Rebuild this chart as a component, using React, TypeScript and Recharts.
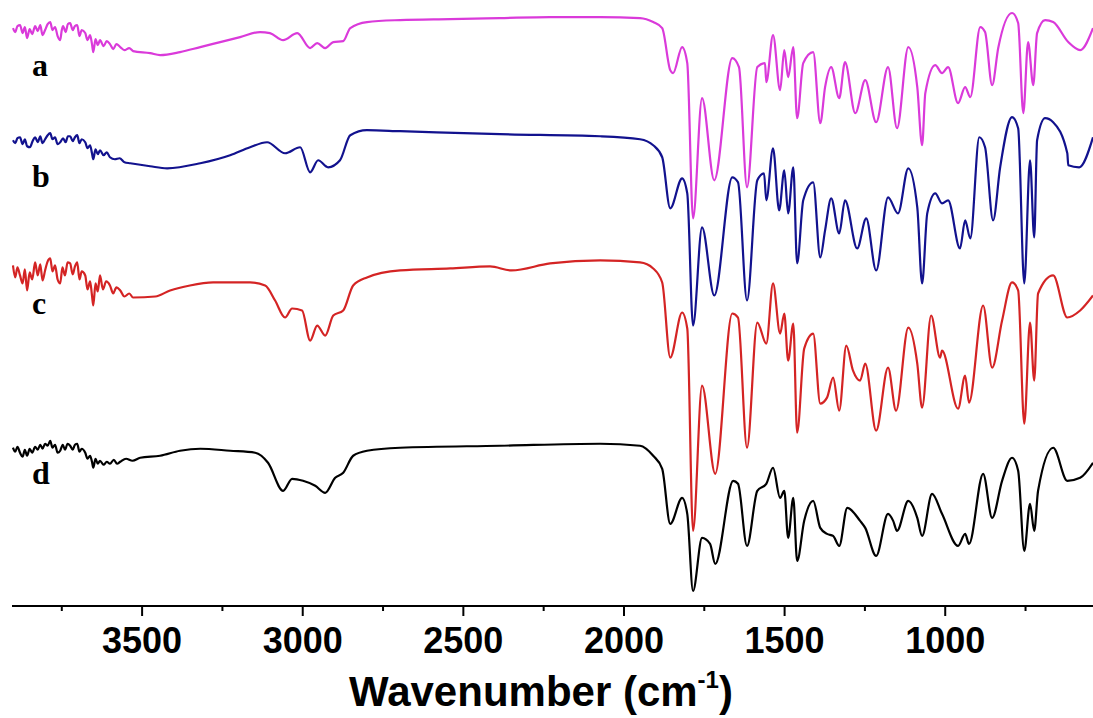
import React from 'react';
import { LineChart, Line, XAxis, YAxis } from 'recharts';

// FTIR spectra a-d, offset vertically. [wavenumber, transmittance (a.u., offset)]
const traceA: [number, number][] = [
  [3902, 577], [3895, 573], [3888, 579], [3880, 580], [3872, 572], [3865, 578], [3858, 567],
  [3850, 576], [3842, 571], [3833, 579], [3825, 574], [3817, 580], [3810, 570], [3802, 575],
  [3794, 581], [3786, 583], [3779, 575], [3771, 578], [3763, 569], [3755, 565], [3750, 575],
  [3746, 579], [3738, 573], [3731, 581], [3724, 582], [3716, 575], [3709, 579], [3702, 580],
  [3695, 569], [3688, 575], [3677, 572], [3670, 565], [3662, 570], [3656, 561], [3652, 553],
  [3645, 566], [3638, 560], [3631, 565], [3620, 559], [3610, 564], [3600, 561], [3590, 556],
  [3580, 561], [3568, 558], [3555, 555], [3540, 557], [3528, 554], [3475, 552], [3444, 550],
  [3382, 553], [3319, 558], [3257, 563], [3195, 568], [3133, 573], [3102, 572], [3061, 565],
  [3017, 572], [2977, 557], [2955, 562], [2930, 557], [2905, 563], [2874, 564], [2852, 577],
  [2800, 583], [2697, 585], [2541, 586], [2386, 587], [2230, 588], [2074, 588], [1950, 587],
  [1909, 583], [1881, 577], [1856, 535], [1847, 532], [1819, 558], [1803, 542], [1785, 387],
  [1757, 507], [1719, 425], [1663, 547], [1642, 538], [1617, 418], [1585, 538], [1561, 542],
  [1557, 523], [1536, 570], [1514, 515], [1501, 555], [1489, 528], [1473, 558], [1461, 487],
  [1442, 542], [1411, 553], [1389, 482], [1374, 518], [1355, 538], [1330, 507], [1312, 543],
  [1280, 492], [1249, 525], [1215, 483], [1178, 538], [1150, 477], [1115, 558], [1087, 518],
  [1072, 460], [1062, 512], [1031, 540], [1010, 532], [991, 538], [960, 502], [938, 518],
  [922, 508], [891, 578], [876, 573], [854, 520], [835, 557], [792, 592], [773, 582],
  [757, 492], [742, 563], [726, 520], [714, 572], [689, 585], [664, 583], [617, 563],
  [580, 555], [540, 577],
];

const traceB: [number, number][] = [
  [3902, 465], [3895, 462], [3888, 467], [3880, 468], [3872, 461], [3865, 466], [3858, 459],
  [3849, 458], [3841, 464], [3833, 468], [3825, 463], [3817, 469], [3810, 462], [3802, 466],
  [3794, 470], [3786, 472], [3779, 466], [3771, 468], [3763, 461], [3755, 463], [3746, 467],
  [3738, 463], [3731, 469], [3724, 469], [3716, 464], [3709, 468], [3702, 470], [3695, 462],
  [3688, 466], [3677, 463], [3670, 457], [3662, 460], [3656, 452], [3652, 446], [3645, 456],
  [3638, 451], [3631, 455], [3620, 450], [3610, 453], [3600, 448], [3585, 446], [3570, 447],
  [3555, 443], [3537, 442], [3475, 439], [3422, 437], [3319, 442], [3226, 450], [3164, 458],
  [3111, 463], [3055, 452], [3008, 458], [2977, 433], [2952, 445], [2921, 438], [2884, 445],
  [2852, 470], [2800, 475], [2697, 474], [2386, 471], [2074, 469], [1950, 466], [1909, 460],
  [1881, 448], [1856, 397], [1819, 427], [1803, 412], [1785, 280], [1757, 378], [1719, 310],
  [1663, 428], [1645, 423], [1617, 305], [1585, 425], [1564, 432], [1557, 405], [1536, 457],
  [1517, 395], [1501, 435], [1489, 392], [1473, 438], [1461, 342], [1442, 405], [1411, 423],
  [1389, 348], [1374, 375], [1355, 407], [1330, 372], [1312, 405], [1274, 357], [1246, 387],
  [1215, 335], [1178, 408], [1147, 392], [1115, 437], [1087, 398], [1072, 322], [1056, 392],
  [1031, 412], [1010, 402], [991, 405], [954, 357], [938, 385], [922, 367], [894, 468],
  [876, 458], [851, 385], [829, 438], [792, 488], [773, 477], [754, 322], [736, 445],
  [723, 368], [714, 465], [689, 487], [664, 483], [620, 452], [617, 440], [583, 438],
  [540, 468],
];

const traceC: [number, number][] = [
  [3902, 340], [3895, 328], [3888, 338], [3880, 330], [3872, 322], [3865, 336], [3858, 315],
  [3850, 333], [3842, 326], [3833, 343], [3825, 330], [3817, 341], [3810, 325], [3802, 335],
  [3794, 344], [3786, 347], [3779, 334], [3771, 340], [3763, 326], [3755, 322], [3748, 338],
  [3740, 330], [3732, 343], [3724, 342], [3716, 331], [3709, 339], [3702, 343], [3695, 326],
  [3688, 334], [3677, 330], [3670, 316], [3662, 324], [3656, 310], [3652, 300], [3645, 322],
  [3638, 314], [3631, 330], [3622, 316], [3612, 324], [3600, 320], [3590, 312], [3580, 318],
  [3568, 315], [3555, 309], [3540, 312], [3528, 308], [3459, 309], [3413, 315], [3351, 320],
  [3279, 323], [3164, 323], [3117, 320], [3086, 305], [3055, 288], [3033, 297], [3002, 295],
  [2977, 265], [2955, 280], [2930, 270], [2905, 290], [2874, 295], [2843, 320], [2800, 328],
  [2697, 335], [2541, 337], [2417, 339], [2350, 335], [2230, 342], [2074, 345], [1950, 343],
  [1909, 337], [1881, 323], [1856, 248], [1819, 293], [1803, 277], [1785, 75], [1757, 220],
  [1716, 132], [1663, 292], [1645, 288], [1617, 158], [1585, 283], [1557, 262], [1536, 322],
  [1514, 272], [1501, 292], [1489, 245], [1473, 282], [1461, 173], [1439, 257], [1411, 272],
  [1389, 202], [1368, 208], [1349, 228], [1330, 195], [1308, 260], [1287, 235], [1265, 225],
  [1249, 242], [1215, 175], [1178, 238], [1153, 195], [1115, 278], [1087, 242], [1072, 198],
  [1044, 290], [1016, 248], [1010, 255], [960, 197], [938, 230], [926, 203], [882, 300],
  [854, 238], [823, 285], [792, 323], [773, 315], [754, 182], [736, 283], [723, 225],
  [711, 312], [664, 330], [620, 288], [580, 295], [540, 310],
];

const traceD: [number, number][] = [
  [3902, 158], [3895, 154], [3888, 159], [3880, 153], [3872, 149], [3865, 156], [3858, 150],
  [3850, 157], [3842, 153], [3833, 159], [3825, 156], [3817, 161], [3810, 157], [3802, 162],
  [3794, 160], [3786, 165], [3779, 158], [3771, 161], [3763, 153], [3755, 155], [3747, 161],
  [3740, 156], [3732, 162], [3724, 160], [3716, 156], [3709, 161], [3702, 162], [3695, 154],
  [3688, 157], [3677, 153], [3670, 147], [3662, 150], [3656, 144], [3652, 138], [3645, 147],
  [3638, 142], [3631, 145], [3620, 141], [3610, 144], [3600, 142], [3588, 146], [3578, 142],
  [3568, 144], [3550, 147], [3530, 145], [3506, 148], [3444, 150], [3382, 155], [3319, 157],
  [3226, 155], [3148, 153], [3108, 143], [3061, 115], [3033, 127], [2999, 125], [2961, 120],
  [2930, 113], [2899, 128], [2874, 133], [2843, 150], [2800, 155], [2697, 158], [2386, 160],
  [2074, 162], [1950, 160], [1909, 150], [1881, 137], [1856, 82], [1819, 108], [1803, 92],
  [1785, 15], [1757, 68], [1732, 62], [1716, 42], [1660, 125], [1645, 122], [1617, 60],
  [1585, 115], [1557, 122], [1536, 138], [1514, 108], [1501, 115], [1489, 68], [1473, 108],
  [1461, 45], [1439, 85], [1411, 105], [1389, 78], [1368, 72], [1349, 70], [1330, 60],
  [1305, 98], [1265, 85], [1249, 78], [1215, 50], [1178, 92], [1162, 85], [1150, 75],
  [1115, 105], [1087, 88], [1072, 70], [1041, 112], [1010, 92], [960, 60], [938, 72],
  [926, 62], [882, 132], [854, 88], [823, 125], [792, 148], [773, 135], [754, 55],
  [736, 102], [723, 75], [711, 115], [664, 158], [620, 125], [580, 128], [540, 143],
];

const allTicks = [3750, 3500, 3250, 3000, 2750, 2500, 2250, 2000, 1750, 1500, 1250, 1000, 750];
const majorTicks = [3500, 3000, 2500, 2000, 1500, 1000];

const toRows = (pts: [number, number][]) => pts.map(([wn, t]) => ({ wn, t }));

const series = [
  { name: 'a', color: '#da3ada', rows: toRows(traceA), labelY: 76 },
  { name: 'b', color: '#12128e', rows: toRows(traceB), labelY: 187 },
  { name: 'c', color: '#d42424', rows: toRows(traceC), labelY: 314 },
  { name: 'd', color: '#000000', rows: toRows(traceD), labelY: 484 },
];

const sans = '"Liberation Sans", Arial, sans-serif';

function WnTick(props: any) {
  const { x, y, payload } = props;
  const major = majorTicks.includes(payload.value);
  return (
    <g>
      <line x1={x} x2={x} y1={y} y2={y + (major ? 10 : 5)} stroke="#000" strokeWidth={2} />
      {major && (
        <text x={x} y={y + 47} textAnchor="middle" fontFamily={sans} fontWeight="bold" fontSize={36} fill="#000">
          {payload.value}
        </text>
      )}
    </g>
  );
}

function AxisTitle() {
  return (
    <text x={541} y={706} textAnchor="middle" fontFamily={sans} fontWeight="bold" fontSize={42} fill="#000">
      Wavenumber (cm
      <tspan fontSize={24} dy={-18}>-1</tspan>
      <tspan dy={18}>)</tspan>
    </text>
  );
}

export default function App() {
  return (
    <div style={{ position: 'relative', width: 1093, height: 718, background: '#fff' }}>
      <style>{'body{margin:0}'}</style>
      <LineChart width={1093} height={718} margin={{ top: 0, right: 0, left: 12, bottom: 0 }}>
        <XAxis
          type="number"
          dataKey="wn"
          domain={[540, 3905]}
          reversed
          allowDataOverflow
          ticks={allTicks}
          interval={0}
          height={112}
          tickSize={0}
          tickMargin={0}
          tickLine={false}
          tick={<WnTick />}
          axisLine={{ stroke: '#000', strokeWidth: 2 }}
          label={{ content: () => <AxisTitle /> }}
        />
        <YAxis hide type="number" domain={[0, 605]} />
        {series.map((s) => (
          <Line
            key={s.name}
            data={s.rows}
            dataKey="t"
            type="monotone"
            stroke={s.color}
            strokeWidth={2.2}
            dot={false}
            activeDot={false}
            isAnimationActive={false}
          />
        ))}
      </LineChart>
      <svg width={1093} height={718} style={{ position: 'absolute', left: 0, top: 0, pointerEvents: 'none' }}>
        {series.map((s) => (
          <text key={s.name} x={32} y={s.labelY} fontFamily='"Liberation Serif", "Times New Roman", serif' fontWeight="bold" fontSize={32} fill="#000">
            {s.name}
          </text>
        ))}
      </svg>
    </div>
  );
}
